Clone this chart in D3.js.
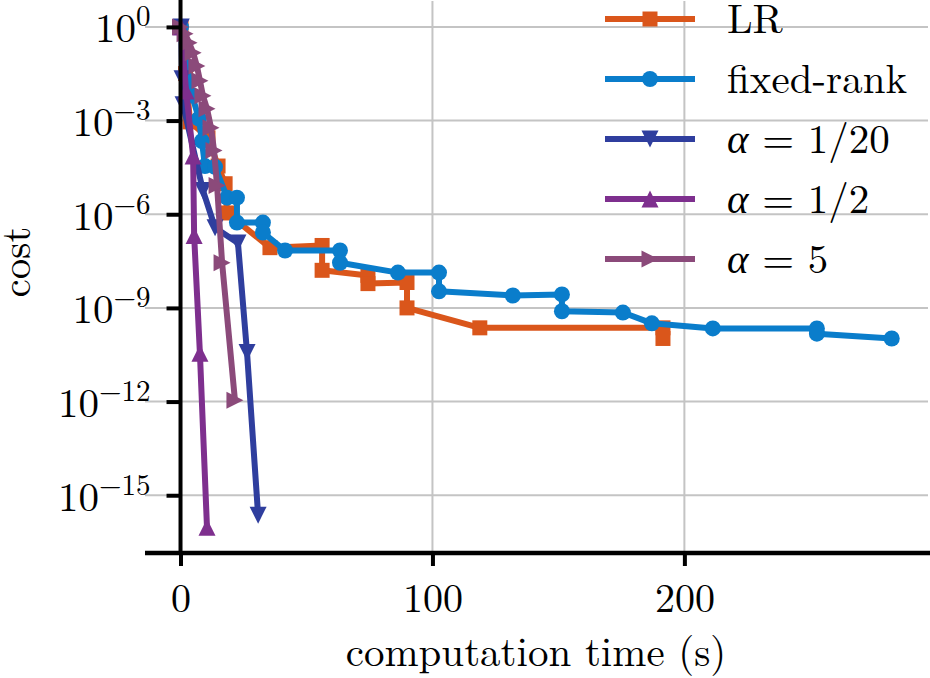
<!DOCTYPE html>
<html>
<head>
<meta charset="utf-8">
<script src="https://cdn.jsdelivr.net/npm/d3@7"></script>
<style>
  body { margin: 0; background: #fff; }
</style>
</head>
<body>
<div id="chart-area"></div>
<script>
// values
var seriesNames = ["LR", "fixed-rank", "α = 1/20", "α = 1/2", "α = 5"];

var lrTime = [0.2, 2.0, 3.8, 10.9, 14.9, 17.7, 18.5, 35.5, 56.2, 56.2, 74.4, 74.4, 89.9, 89.9, 118.8, 191.5, 191.5];
var lrCost = [1, 3.2e-2, 9.1e-4, 2.8e-4, 3.5e-5, 9.5e-6, 1.1e-6, 8.5e-8, 1.0e-7, 1.6e-8, 1.1e-8, 6.0e-9, 6.5e-9, 1.0e-9, 2.3e-10, 2.3e-10, 1.05e-10];

var fixedTime = [0.2, 4.6, 7.3, 8.5, 9.7, 13.7, 18.5, 22.4, 22.4, 32.7, 32.7, 41.5, 63.3, 63.3, 86.3, 102.6, 102.6, 131.9, 151.4, 151.4, 175.6, 187.1, 211.3, 252.6, 252.6, 282.3];
var fixedCost = [1, 6.3e-3, 1.15e-3, 2.2e-4, 3.5e-5, 3.3e-5, 3.4e-6, 3.4e-6, 5.4e-7, 5.4e-7, 2.6e-7, 6.9e-8, 6.9e-8, 2.8e-8, 1.35e-8, 1.35e-8, 3.4e-9, 2.5e-9, 2.7e-9, 7.8e-10, 7.1e-10, 3.2e-10, 2.2e-10, 2.2e-10, 1.5e-10, 1.05e-10];

var a20Time = [0.3, 0.6, 1.0, 8.9, 13.7, 22.8, 26.4, 30.8];
var a20Cost = [1, 2.2e-2, 3.2e-3, 5.8e-6, 3.7e-7, 1.2e-7, 3.7e-11, 2.3e-16];

var a2Time = [0.2, 2.2, 5.0, 5.4, 7.7, 10.5];
var a2Cost = [1, 8.9e-3, 7.4e-5, 2.1e-7, 3.5e-11, 9.5e-17];

var a5Time = [0, 1.8, 3.4, 5.0, 6.5, 7.7, 8.9, 10.5, 12.1, 13.3, 14.5, 16.5, 21.6];
var a5Cost = [1, 0.6, 0.31, 0.15, 5.6e-2, 1.9e-2, 6.2e-3, 2.4e-3, 5.9e-4, 1.1e-4, 8.3e-6, 2.8e-8, 1.1e-12];

var xTicks = [0, 100, 200];
var yTicks = [1e0, 1e-3, 1e-6, 1e-9, 1e-12, 1e-15];
var yTickExp = ["0", "−3", "−6", "−9", "−12", "−15"];

var colors = ["#da561b", "#0a7dcb", "#2f3e9e", "#7e2f8e", "#8b4a7a"];
var markers = ["square", "circle", "down", "up", "right"];
var fontName = "Latin Modern Roman";

var series = [
    { time: lrTime, cost: lrCost },
    { time: fixedTime, cost: fixedCost },
    { time: a20Time, cost: a20Cost },
    { time: a2Time, cost: a2Cost },
    { time: a5Time, cost: a5Cost }
].map(function(s, i) {
    return {
        name: seriesNames[i],
        color: colors[i],
        marker: markers[i],
        points: s.time.map(function(t, j) { return { t: t, c: s.cost[j] }; })
    };
});

var W = 930, H = 678;
var plot = { left: 145, right: 928, top: 1, bottom: 553 };

var svg = d3.select("#chart-area")
    .append("svg")
    .attr("width", W)
    .attr("height", H)
    .style("font-family", fontName);

var x = d3.scaleLinear()
    .domain([-14.1, 296.7])
    .range([plot.left, plot.right]);

var y = d3.scaleLog()
    .domain([Math.pow(10, -16.85), Math.pow(10, 0.83)])
    .range([plot.bottom, plot.top]);

// grid
var grid = svg.append("g").attr("class", "grid");
grid.selectAll("line.h")
    .data(yTicks)
    .enter().append("line")
    .attr("class", "h")
    .attr("x1", plot.left).attr("x2", plot.right)
    .attr("y1", function(d) { return y(d); })
    .attr("y2", function(d) { return y(d); })
    .attr("stroke", "#c4c4c4")
    .attr("stroke-width", 2);
grid.selectAll("line.v")
    .data(xTicks)
    .enter().append("line")
    .attr("class", "v")
    .attr("y1", plot.top).attr("y2", plot.bottom)
    .attr("x1", function(d) { return x(d); })
    .attr("x2", function(d) { return x(d); })
    .attr("stroke", "#c4c4c4")
    .attr("stroke-width", 2);

function markerPath(type, s) {
    if (type === "square") return "M" + (-s) + "," + (-s) + "h" + 2 * s + "v" + 2 * s + "h" + (-2 * s) + "Z";
    if (type === "circle") return d3.symbol().type(d3.symbolCircle).size(Math.PI * s * s)();
    if (type === "down") return "M0," + s + "L" + (-s) + "," + (-s) + "L" + s + "," + (-s) + "Z";
    if (type === "up") return "M0," + (-s) + "L" + (-s) + "," + s + "L" + s + "," + s + "Z";
    return "M" + s + ",0L" + (-s) + "," + (-s) + "L" + (-s) + "," + s + "Z";
}
var markerSize = { square: 7.5, circle: 8, down: 8.5, up: 8.5, right: 8.5 };

var line = d3.line()
    .x(function(d) { return x(d.t); })
    .y(function(d) { return y(d.c); });

series.forEach(function(s) {
    var g = svg.append("g").attr("class", "series");
    g.append("path")
        .datum(s.points)
        .attr("d", line)
        .attr("fill", "none")
        .attr("stroke", s.color)
        .attr("stroke-width", 6)
        .attr("stroke-linejoin", "round");
    g.selectAll("path.mark")
        .data(s.points)
        .enter().append("path")
        .attr("class", "mark")
        .attr("d", markerPath(s.marker, markerSize[s.marker]))
        .attr("transform", function(d) { return "translate(" + x(d.t) + "," + y(d.c) + ")"; })
        .attr("fill", s.color);
});

// spines
svg.append("line")
    .attr("x1", x(0)).attr("x2", x(0))
    .attr("y1", plot.top - 1).attr("y2", plot.bottom)
    .attr("stroke", "#000").attr("stroke-width", 4);
svg.append("line")
    .attr("x1", plot.left).attr("x2", W)
    .attr("y1", plot.bottom).attr("y2", plot.bottom)
    .attr("stroke", "#000").attr("stroke-width", 4.5);

// y axis ticks
var yAxis = svg.append("g")
    .attr("transform", "translate(" + x(0) + ",0)")
    .call(d3.axisLeft(y).tickValues(yTicks).tickSize(14).tickPadding(16));
yAxis.select(".domain").remove();
yAxis.selectAll(".tick line").attr("stroke", "#000").attr("stroke-width", 4);
yAxis.selectAll(".tick text")
    .attr("fill", "#000")
    .style("font-family", fontName)
    .attr("font-size", 41)
    .attr("dy", "0.36em")
    .text("")
    .each(function(d, i) {
        var t = d3.select(this);
        t.append("tspan").text("10");
        t.append("tspan").attr("font-size", 29).attr("dy", -16).text(yTickExp[i]);
    });

// x axis ticks
var xAxis = svg.append("g")
    .attr("transform", "translate(0," + plot.bottom + ")")
    .call(d3.axisBottom(x).tickValues(xTicks).tickSize(13).tickPadding(18).tickFormat(d3.format("d")));
xAxis.select(".domain").remove();
xAxis.selectAll(".tick line").attr("stroke", "#000").attr("stroke-width", 4);
xAxis.selectAll(".tick text")
    .attr("fill", "#000")
    .style("font-family", fontName)
    .attr("font-size", 40);

// axis labels
svg.append("text")
    .style("font-family", fontName)
    .attr("x", 536)
    .attr("y", 666)
    .attr("text-anchor", "middle")
    .attr("font-size", 41)
    .text("computation time (s)");

svg.append("text")
    .style("font-family", fontName)
    .attr("transform", "translate(30,262) rotate(-90)")
    .attr("text-anchor", "middle")
    .attr("font-size", 41)
    .text("cost");

// legend
var legend = svg.append("g").attr("class", "legend");
series.forEach(function(s, i) {
    var ly = 19 + i * 60;
    legend.append("line")
        .attr("x1", 605).attr("x2", 695)
        .attr("y1", ly).attr("y2", ly)
        .attr("stroke", s.color)
        .attr("stroke-width", 6);
    legend.append("path")
        .attr("d", markerPath(s.marker, markerSize[s.marker]))
        .attr("transform", "translate(650," + ly + ")")
        .attr("fill", s.color);
    var txt = legend.append("text")
        .style("font-family", fontName)
        .attr("x", 727)
        .attr("y", ly + 14)
        .attr("font-size", 41);
    if (s.name.charAt(0) === "α") {
        txt.append("tspan").attr("font-style", "italic").text("α");
        txt.append("tspan").text(s.name.slice(1));
    } else {
        txt.text(s.name);
    }
});
</script>
</body>
</html>
